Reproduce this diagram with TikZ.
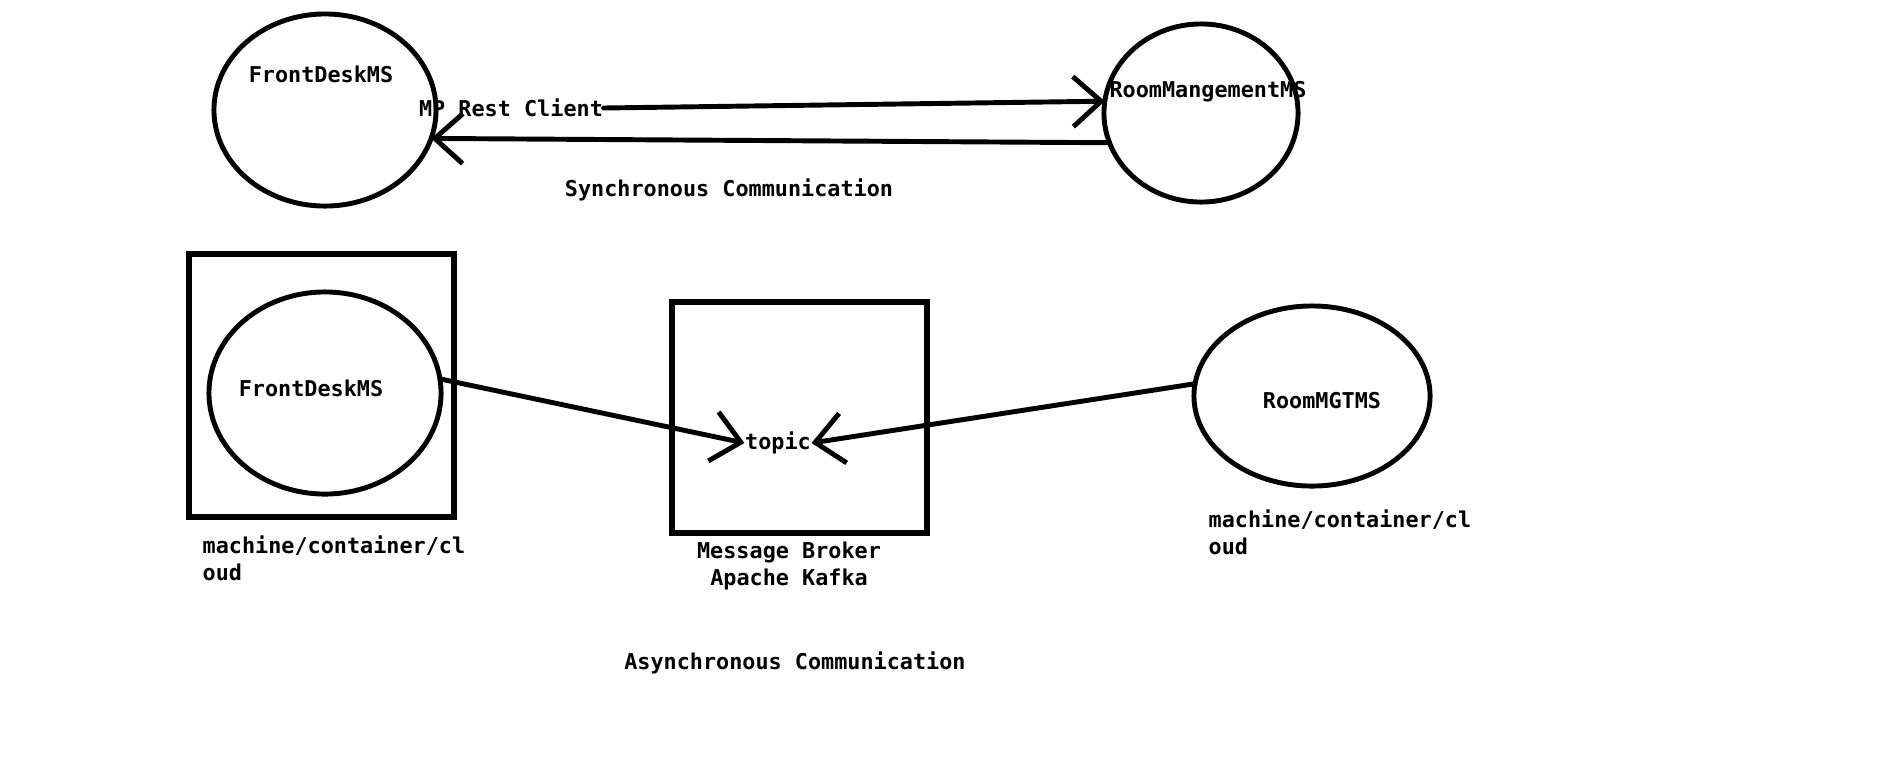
\documentclass[tikz,border=0pt]{standalone}
\usepackage{fontspec}
\setmonofont{DejaVu Sans Mono}
\usetikzlibrary{shapes.geometric, arrows.meta}

\begin{document}
\begin{tikzpicture}[
    x=0.01cm, y=-0.01cm,
    >={Straight Barb[length=2.8mm, width=5mm]},
    font=\ttfamily\bfseries\fontsize{6.2}{7.6}\selectfont,
    service/.style={ellipse, draw, line width=1.4pt, inner sep=0pt, outer sep=0pt},
    host/.style={rectangle, draw, line width=1.5pt, inner sep=0pt, outer sep=0pt},
    lbl/.style={inner sep=0pt, align=left},
    link/.style={->, line width=1.4pt, line cap=round}
]
\useasboundingbox (0,0) rectangle (1900,763);

% Synchronous part
\node[service, minimum width=2.22cm, minimum height=1.92cm] (front) at (325,110) {};
\node[service, minimum width=1.94cm, minimum height=1.78cm] (room) at (1201,113) {};
\node[lbl] (frontname) at (321,74) {FrontDeskMS};
\node[lbl] (roomname) at (1208,92) {RoomMangementMS};
\node[lbl] (client) at (511,108) {MP Rest Client};
\node[lbl] (synctitle) at (729,190) {Synchronous Communication};

\draw[link] (client.east) -- (room.173);
\draw[link] (room.198) -- (front.345);

% Asynchronous part
\node[host, minimum width=2.65cm, minimum height=2.63cm] (hostA) at (321.5,385.5) {};
\node[service, minimum width=2.32cm, minimum height=2.02cm] (frontB) at (325,393) {};
\node[lbl] (frontBname) at (311,388) {FrontDeskMS};
\node[lbl, anchor=west] (hostAname) at (202,558) {machine/container/cl\\oud};

\node[host, minimum width=2.55cm, minimum height=2.31cm] (broker) at (799.5,417.5) {};
\node[lbl] (topic) at (778,443) {topic};
\node[lbl, align=center] (brokername) at (789,566) {Message Broker\\Apache Kafka};

\node[service, minimum width=2.36cm, minimum height=1.80cm] (roomB) at (1312,396) {};
\node[lbl] (roomBname) at (1322,401) {RoomMGTMS};
\node[lbl, anchor=west] (roomBhost) at (1208,532) {machine/container/cl\\oud};

\node[lbl] (asynctitle) at (795,663) {Asynchronous Communication};

\draw[link] (frontB.7) -- (topic.west);
\draw[link] (roomB.174) -- (topic.east);

\end{tikzpicture}
\end{document}
